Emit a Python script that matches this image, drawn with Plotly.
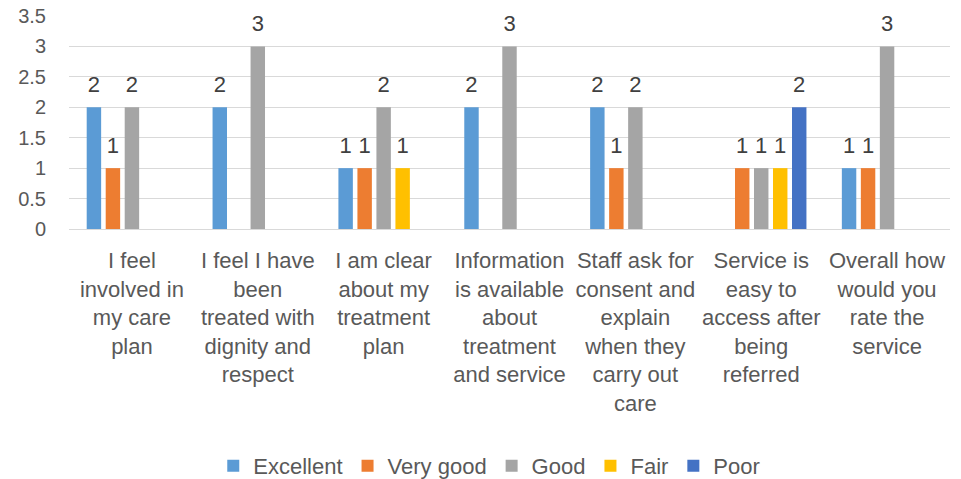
import plotly.graph_objects as go

categories = [
    "I feel<br>involved in<br>my care<br>plan",
    "I feel I have<br>been<br>treated with<br>dignity and<br>respect",
    "I am clear<br>about my<br>treatment<br>plan",
    "Information<br>is available<br>about<br>treatment<br>and service",
    "Staff ask for<br>consent and<br>explain<br>when they<br>carry out<br>care",
    "Service is<br>easy to<br>access after<br>being<br>referred",
    "Overall how<br>would you<br>rate the<br>service",
]
excellent = [2, 2, 1, 2, 2, None, 1]
very_good = [1, None, 1, None, 1, 1, 1]
good = [2, 3, 2, 3, 2, 1, 3]
fair = [None, None, 1, None, None, 1, None]
poor = [None, None, None, None, None, 2, None]

series = [
    ("Excellent", excellent, "#5B9BD5"),
    ("Very good", very_good, "#ED7D31"),
    ("Good", good, "#A5A5A5"),
    ("Fair", fair, "#FFC000"),
    ("Poor", poor, "#4472C4"),
]

FONT = "Liberation Sans"
GRAY = "#595959"
BARGAP = 0.245

fig = go.Figure()
for i, (name, vals, color) in enumerate(series):
    fig.add_trace(go.Bar(
        name=name, x=categories, y=vals, marker_color=color,
        marker_line_width=0, offsetgroup=str(i), alignmentgroup="a",
    ))
for i, (name, vals, color) in enumerate(series):
    fig.add_trace(go.Scatter(
        x=categories, y=vals, mode="markers+text",
        text=[("" if v is None else str(v)) for v in vals],
        textposition="top center",
        textfont=dict(family=FONT, size=22, color="#404040"),
        marker=dict(size=14, opacity=0),
        offsetgroup=str(i), alignmentgroup="a",
        showlegend=False, hoverinfo="skip", cliponaxis=False,
    ))

fig.update_layout(
    width=953, height=471,
    margin=dict(l=61, r=11, t=8, b=250, autoexpand=False),
    paper_bgcolor="white", plot_bgcolor="white",
    barmode="group", bargap=BARGAP, bargroupgap=0.24,
    scattermode="group", scattergap=BARGAP,
    font=dict(family=FONT, color=GRAY, size=22),
    legend=dict(orientation="h", xref="container", yref="container",
                x=0.505, y=0.0276, xanchor="center", yanchor="middle",
                font=dict(family=FONT, size=22, color=GRAY),
                traceorder="normal"),
)
fig.update_yaxes(range=[0, 3.5], dtick=0.5, gridcolor="#D9D9D9", gridwidth=1,
                 zeroline=True, zerolinecolor="#D9D9D9", zerolinewidth=1,
                 showline=False, ticks="", ticklabelstandoff=22, automargin=False,
                 ticklabeloverflow="allow",
                 tickfont=dict(family=FONT, size=20, color=GRAY))
fig.update_xaxes(showline=False, ticks="", tickangle=0, ticklabelstandoff=16,
                 automargin=False,
                 tickfont=dict(family=FONT, size=22, color=GRAY))

fig.write_html("out.html")
